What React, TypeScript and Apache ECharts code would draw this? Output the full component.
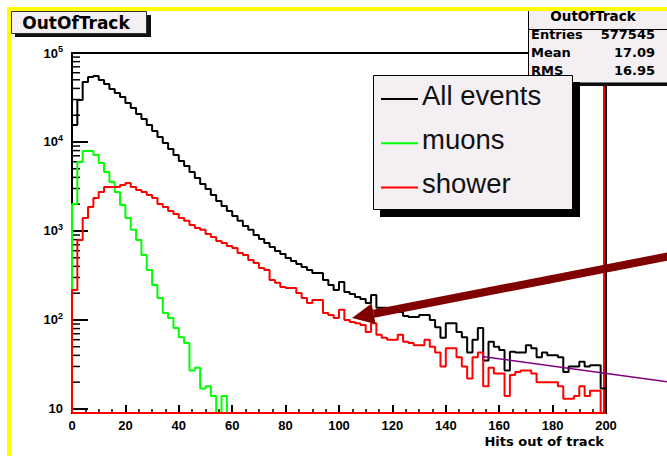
import React, { useEffect, useRef } from "react";
import * as echarts from "echarts";

// ---- data ----
const BIN_WIDTH = 2;
const X_MIN = 0;
const X_MAX = 200;
const X_STEP = 20;
const Y_MIN = 9;
const Y_MAX = 100000;

const histTitle = "OutOfTrack";
const xAxisTitle = "Hits out of track";
const legendNames = ["All events", "muons", "shower"];
const seriesColors = ["#000000", "#00ff00", "#ff0000"];
const statsLabels = ["Entries", "Mean", "RMS"];
const statsValues = ["577545", "17.09", "16.95"];

const allEvents = [
  15500, 29600, 47200, 53700, 55200, 49700, 44800, 39400, 35500, 32000,
  27400, 24100, 20600, 18100, 15500, 13300, 11400, 9750, 8340, 7140,
  6120, 5380, 4600, 3940, 3380, 2970, 2540, 2170, 1910, 1680,
  1475, 1300, 1140, 1030, 902, 813, 733, 661, 596, 552,
  497, 460, 426, 394, 365, 338, 338, 282, 247, 217,
  267, 206, 196, 181, 172, 155, 191, 137, 137, 130,
  126, 123, 111, 108, 108, 114, 114, 100, 83, 63,
  92, 92, 73, 64, 43, 60, 81, 35, 57, 50,
  46, 27, 44, 43, 43, 52, 48, 38, 43, 40,
  40, 38, 26, 30, 30, 34, 30, 31, 31, 17,
];

const muons = [
  2010, 5960, 7920, 7920, 7140, 5810, 4600, 3550, 2740, 1960,
  1400, 1030, 792, 537, 365, 247, 177, 120, 105, 81,
  64, 55, 27, 29, 17, 18, 14, 0, 14, 0,
  0, 0, 0, 0, 0, 0, 0, 0, 0, 0,
  0, 0, 0, 0, 0, 0, 0, 0, 0, 0,
  0, 0, 0, 0, 0, 0, 0, 0, 0, 0,
  0, 0, 0, 0, 0, 0, 0, 0, 0, 0,
  0, 0, 0, 0, 0, 0, 0, 0, 0, 0,
  0, 0, 0, 0, 0, 0, 0, 0, 0, 0,
  0, 0, 0, 0, 0, 0, 0, 0, 0, 0,
];

const shower = [
  217, 792, 1400, 1860, 2350, 2740, 3120, 3120, 3120, 3290,
  3460, 3120, 2890, 2740, 2540, 2350, 2010, 1860, 1680, 1550,
  1400, 1300, 1170, 1080, 1030, 925, 856, 772, 733, 678,
  644, 566, 538, 472, 437, 384, 365, 282, 261, 235,
  229, 229, 201, 177, 155, 168, 168, 120, 114, 105,
  130, 100, 95, 92, 88, 73, 92, 68, 63, 60,
  60, 68, 57, 55, 52, 52, 60, 50, 43, 30,
  48, 48, 38, 30, 22, 38, 43, 18, 29, 25,
  25, 14, 24, 26, 27, 27, 25, 20, 20, 20,
  20, 18, 13, 13, 14, 18, 14, 16, 16, 0,
];

// step outline of a histogram (empty bins sit on the axis floor)
function stepData(vals: number[], closeBottom: boolean) {
  const pts: number[][] = [[X_MIN, Y_MIN]];
  vals.forEach((v, i) => pts.push([X_MIN + i * BIN_WIDTH, v > 0 ? v : Y_MIN]));
  const last = vals[vals.length - 1];
  pts.push([X_MIN + vals.length * BIN_WIDTH, last > 0 ? last : Y_MIN]);
  pts.push([X_MAX, Y_MIN]);
  if (closeBottom) pts.push([X_MIN, Y_MIN]);
  return pts;
}

const LABEL_FONT = "Liberation Sans";
const BOX_FONT = "DejaVu Sans";
const BOX_FILL = "#f3eff3";

export default function App() {
  const ref = useRef<HTMLDivElement>(null);

  useEffect(() => {
    const el = ref.current;
    if (!el) return;
    const chart = echarts.init(el, undefined, { renderer: "svg" });

    const mkSeries = (name: string, color: string, vals: number[], close: boolean) => ({
      name,
      type: "line",
      step: "end",
      symbol: "none",
      color,
      lineStyle: { color, width: 2 },
      data: stepData(vals, close),
      silent: true,
    });

    chart.setOption({
      animation: false,
      backgroundColor: "#ffffff",
      grid: {
        left: 72,
        top: 53,
        width: 534,
        height: 360,
        show: true,
        borderColor: "#000",
        borderWidth: 2,
        backgroundColor: "transparent",
      },
      xAxis: {
        type: "value",
        min: X_MIN,
        max: X_MAX,
        interval: X_STEP,
        axisLine: { show: true, lineStyle: { color: "#000", width: 2 } },
        axisTick: { show: true, inside: true, length: 8, lineStyle: { color: "#000", width: 2 } },
        minorTick: { show: true, splitNumber: 4, length: 4, lineStyle: { color: "#000", width: 1.5 } },
        axisLabel: {
          color: "#000",
          fontFamily: LABEL_FONT,
          fontWeight: "bold",
          fontSize: 13,
          margin: 6,
        },
        splitLine: { show: false },
      },
      yAxis: {
        type: "log",
        logBase: 10,
        min: Y_MIN,
        max: Y_MAX,
        axisLine: { show: true, lineStyle: { color: "#000", width: 2 } },
        axisTick: { show: true, inside: true, length: 16, lineStyle: { color: "#000", width: 2 } },
        axisLabel: {
          margin: 9,
          formatter: (v: number) => {
            const lg = Math.log10(v);
            const k = Math.round(lg);
            if (Math.abs(lg - k) > 1e-6) return "";
            return k === 1 ? "{b|10}" : `{b|10}{s|${k}}`;
          },
          rich: {
            b: { fontFamily: LABEL_FONT, fontWeight: "bold", fontSize: 13, color: "#000" },
            s: { fontFamily: LABEL_FONT, fontWeight: "bold", fontSize: 9, color: "#000", padding: [0, 0, 8, 0] },
          },
        },
        splitLine: { show: false },
      },
      series: [
        mkSeries(legendNames[0], seriesColors[0], allEvents, false),
        mkSeries(legendNames[1], seriesColors[1], muons, false),
        mkSeries(legendNames[2], seriesColors[2], shower, true),
      ],
    });

    const px = (v: number) => chart.convertToPixel({ xAxisIndex: 0 }, v) as number;
    const py = (v: number) => chart.convertToPixel({ yAxisIndex: 0 }, v) as number;

    const x0 = px(X_MIN);
    const xEnd = px(X_MAX);
    const yTop = py(Y_MAX);
    const yBot = py(Y_MIN);

    const minorTicks: any[] = [];
    for (let k = 1; k <= 4; k++) {
      for (let m = 2; m <= 9; m++) {
        const y = py(m * Math.pow(10, k));
        minorTicks.push({
          type: "line",
          silent: true,
          z: 3,
          shape: { x1: x0, y1: y, x2: x0 + 8, y2: y },
          style: { stroke: "#000", lineWidth: 1.5 },
        });
      }
    }

    const txt = (
      text: string,
      x: number,
      y: number,
      size: number,
      align: string,
      z: number,
      family = BOX_FONT,
      weight = "bold",
      fill = "#000"
    ) => ({
      type: "text",
      silent: true,
      z,
      x,
      y,
      style: {
        text,
        fill,
        fontFamily: family,
        fontSize: size,
        fontWeight: weight,
        align,
        textAlign: align,
        verticalAlign: "middle",
        textVerticalAlign: "middle",
      },
    });

    const statsRowsG: any[] = [];
    statsLabels.forEach((lab, i) => {
      statsRowsG.push(txt(lab, 531, 34 + 18 * i, 13, "left", 4));
      statsRowsG.push(txt(statsValues[i], 655, 34 + 18 * i, 13, "right", 4));
    });

    // legend box (drawn as graphics for exact placement)
    const legendG: any[] = [
      { type: "rect", silent: true, z: 5, shape: { x: 380, y: 82, width: 200, height: 135 }, style: { fill: "#000" } },
      {
        type: "rect",
        silent: true,
        z: 6,
        shape: { x: 373.5, y: 75.5, width: 199, height: 134 },
        style: { fill: BOX_FILL, stroke: "#000", lineWidth: 1 },
      },
    ];
    legendNames.forEach((name, i) => {
      const ly = 99 + 44.3 * i;
      legendG.push({
        type: "line",
        silent: true,
        z: 6,
        shape: { x1: 381, y1: ly, x2: 418, y2: ly },
        style: { stroke: seriesColors[i], lineWidth: 2 },
      });
      legendG.push(txt(name, 422, ly - 4, 27.5, "left", 6, LABEL_FONT, "normal", "#111"));
    });

    // arrow geometry (annotation)
    const tip = [352, 318];
    const tail = [670, 256];
    const dx = tail[0] - tip[0];
    const dy = tail[1] - tip[1];
    const len = Math.hypot(dx, dy);
    const ux = dx / len;
    const uy = dy / len;
    const headL = 22;
    const headW = 10.5;
    const bx = tip[0] + ux * headL;
    const by = tip[1] + uy * headL;

    chart.setOption({
      graphic: [
        ...minorTicks,
        // red edge line of the shower histogram at the right border
        {
          type: "line",
          silent: true,
          z: 3,
          shape: { x1: xEnd - 2, y1: yTop, x2: xEnd - 2, y2: yBot },
          style: { stroke: "#ff0000", lineWidth: 2 },
        },
        // title box
        { type: "rect", silent: true, z: 4, shape: { x: 15, y: 15, width: 136, height: 22 }, style: { fill: "#111" } },
        {
          type: "rect",
          silent: true,
          z: 4,
          shape: { x: 11.5, y: 11.5, width: 135, height: 22 },
          style: { fill: BOX_FILL, stroke: "#333", lineWidth: 1 },
        },
        txt(histTitle, 76, 22.5, 17, "center", 4),
        // stats box
        { type: "rect", silent: true, z: 4, shape: { x: 531, y: 11, width: 140, height: 75 }, style: { fill: "#111" } },
        {
          type: "rect",
          silent: true,
          z: 4,
          shape: { x: 528.5, y: 8, width: 145, height: 75 },
          style: { fill: BOX_FILL, stroke: "#000", lineWidth: 1 },
        },
        {
          type: "line",
          silent: true,
          z: 4,
          shape: { x1: 528.5, y1: 29.5, x2: 667, y2: 29.5 },
          style: { stroke: "#000", lineWidth: 1 },
        },
        txt(histTitle, 593, 15.5, 13.5, "center", 4),
        ...statsRowsG,
        ...legendG,
        // yellow canvas frame
        { type: "rect", silent: true, z: 8, shape: { x: 7, y: 7, width: 660, height: 4 }, style: { fill: "#ffff00" } },
        { type: "rect", silent: true, z: 8, shape: { x: 7, y: 7, width: 4, height: 449 }, style: { fill: "#ffff00" } },
        // x axis title
        txt(xAxisTitle, 604, 441, 13, "right", 8),
        // annotation arrow
        {
          type: "line",
          silent: true,
          z: 9,
          shape: { x1: bx, y1: by, x2: tail[0], y2: tail[1] },
          style: { stroke: "#800000", lineWidth: 8 },
        },
        {
          type: "polygon",
          silent: true,
          z: 9,
          shape: {
            points: [
              [tip[0], tip[1]],
              [bx - uy * headW, by + ux * headW],
              [bx + uy * headW, by - ux * headW],
            ],
          },
          style: { fill: "#800000" },
        },
        // purple annotation line
        {
          type: "line",
          silent: true,
          z: 9,
          shape: { x1: 482, y1: 356.5, x2: 667, y2: 381.7 },
          style: { stroke: "#800080", lineWidth: 1.5 },
        },
      ],
    });

    return () => chart.dispose();
  }, []);

  return (
    <div
      ref={ref}
      style={{ position: "fixed", left: 0, top: 0, width: 667, height: 456, background: "#ffffff" }}
    />
  );
}
